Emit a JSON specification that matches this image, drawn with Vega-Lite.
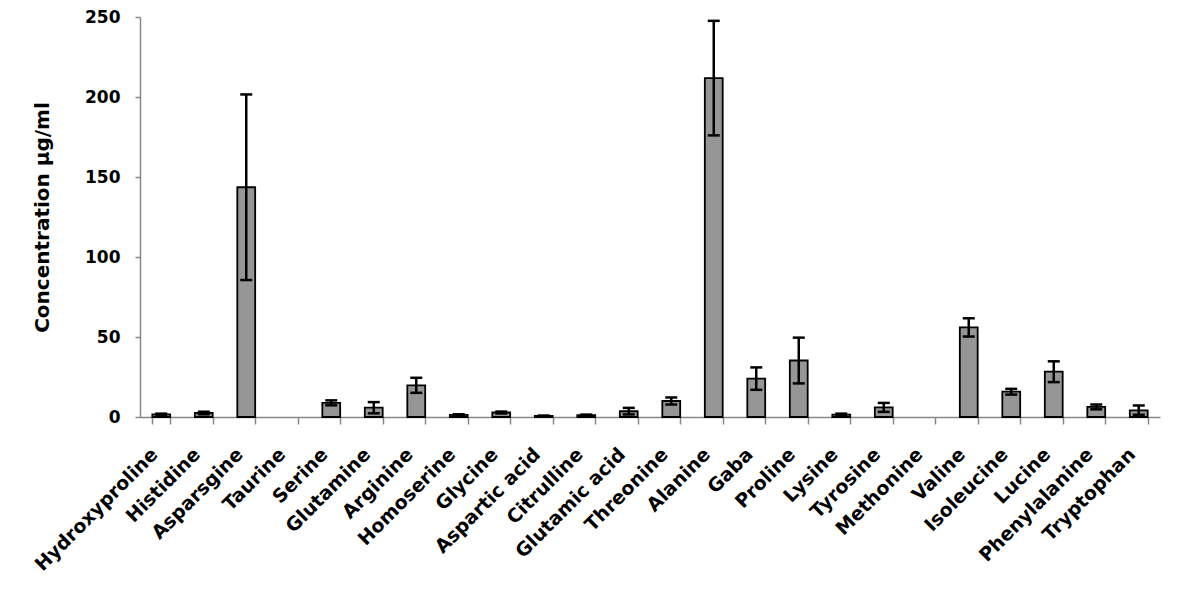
{
  "$schema": "https://vega.github.io/schema/vega-lite/v6.json",
  "autosize": {"type": "none"},
  "width": 1020,
  "height": 400,
  "padding": {"left": 140, "top": 17, "right": 40, "bottom": 189},
  "background": "white",
  "config": {"view": {"stroke": null}, "font": "DejaVu Sans"},
  "data": {
    "values": [
      {"aa": "Hydroxyproline", "v": 1.6, "lo": 1.1, "hi": 2.1},
      {"aa": "Histidine", "v": 2.5, "lo": 1.7, "hi": 3.3},
      {"aa": "Asparsgine", "v": 143.6, "lo": 85.6, "hi": 201.6},
      {"aa": "Taurine", "v": null, "lo": null, "hi": null},
      {"aa": "Serine", "v": 8.8, "lo": 7.3, "hi": 10.4},
      {"aa": "Glutamine", "v": 5.8, "lo": 2.3, "hi": 9.3},
      {"aa": "Arginine", "v": 19.8, "lo": 15.1, "hi": 24.5},
      {"aa": "Homoserine", "v": 1.3, "lo": 0.9, "hi": 1.7},
      {"aa": "Glycine", "v": 2.8, "lo": 2.2, "hi": 3.4},
      {"aa": "Aspartic acid", "v": 0.7, "lo": 0.5, "hi": 0.9},
      {"aa": "Citrulline", "v": 1.2, "lo": 0.9, "hi": 1.5},
      {"aa": "Glutamic acid", "v": 3.6, "lo": 1.6, "hi": 5.7},
      {"aa": "Threonine", "v": 10.0, "lo": 7.8, "hi": 12.2},
      {"aa": "Alanine", "v": 211.8, "lo": 176.0, "hi": 247.6},
      {"aa": "Gaba", "v": 24.0, "lo": 17.0, "hi": 31.0},
      {"aa": "Proline", "v": 35.3, "lo": 21.0, "hi": 49.6},
      {"aa": "Lysine", "v": 1.5, "lo": 0.9, "hi": 2.1},
      {"aa": "Tyrosine", "v": 6.0, "lo": 3.2, "hi": 8.8},
      {"aa": "Methonine", "v": null, "lo": null, "hi": null},
      {"aa": "Valine", "v": 56.0, "lo": 50.3, "hi": 61.7},
      {"aa": "Isoleucine", "v": 15.8, "lo": 14.0, "hi": 17.6},
      {"aa": "Lucine", "v": 28.3, "lo": 21.8, "hi": 34.8},
      {"aa": "Phenylalanine", "v": 6.3, "lo": 4.8, "hi": 7.8},
      {"aa": "Tryptophan", "v": 4.2, "lo": 1.4, "hi": 7.2}
    ]
  },
  "encoding": {
    "x": {
      "field": "aa",
      "type": "nominal",
      "scale": {
        "domain": ["Hydroxyproline", "Histidine", "Asparsgine", "Taurine", "Serine", "Glutamine", "Arginine", "Homoserine", "Glycine", "Aspartic acid", "Citrulline", "Glutamic acid", "Threonine", "Alanine", "Gaba", "Proline", "Lysine", "Tyrosine", "Methonine", "Valine", "Isoleucine", "Lucine", "Phenylalanine", "Tryptophan"],
        "paddingInner": 0.58,
        "paddingOuter": 0.29
      },
      "axis": {
        "title": null,
        "tickBand": "extent",
        "labelAngle": -45,
        "labelAlign": "right",
        "labelBaseline": "middle",
        "labelFont": "DejaVu Sans",
        "labelFontSize": 19,
        "labelFontWeight": "bold",
        "labelColor": "black",
        "labelPadding": 27,
        "labelOffset": -7,
        "labelOverlap": false,
        "tickSize": 7,
        "tickColor": "#888888",
        "tickWidth": 1.5,
        "domainColor": "#888888",
        "domainWidth": 1.5
      }
    }
  },
  "layer": [
    {
      "mark": {"type": "bar", "fill": "#969696", "stroke": "black", "strokeWidth": 1.8},
      "encoding": {
        "y": {
          "field": "v",
          "type": "quantitative",
          "title": "Concentration µg/ml",
          "scale": {"domain": [0, 250], "nice": false},
          "axis": {
            "values": [0, 50, 100, 150, 200, 250],
            "grid": false,
            "domainColor": "#888888",
            "domainWidth": 1.5,
            "tickColor": "#888888",
            "tickWidth": 1.5,
            "tickSize": 5,
            "labelFont": "DejaVu Sans",
            "labelFontWeight": "bold",
            "labelFontSize": 17,
            "labelColor": "black",
            "labelPadding": 15,
            "titleFont": "DejaVu Sans",
            "titleFontWeight": "bold",
            "titleFontSize": 20,
            "titleColor": "black",
            "titlePadding": 32
          }
        }
      }
    },
    {
      "mark": {"type": "rule", "stroke": "black", "strokeWidth": 2.5},
      "encoding": {
        "y": {"field": "lo", "type": "quantitative", "title": "Concentration µg/ml"},
        "y2": {"field": "hi"}
      }
    },
    {
      "mark": {"type": "tick", "color": "black", "opacity": 1, "size": 12, "thickness": 2.5},
      "encoding": {
        "y": {"field": "hi", "type": "quantitative", "title": "Concentration µg/ml"}
      }
    },
    {
      "mark": {"type": "tick", "color": "black", "opacity": 1, "size": 12, "thickness": 2.5},
      "encoding": {
        "y": {"field": "lo", "type": "quantitative", "title": "Concentration µg/ml"}
      }
    }
  ]
}
